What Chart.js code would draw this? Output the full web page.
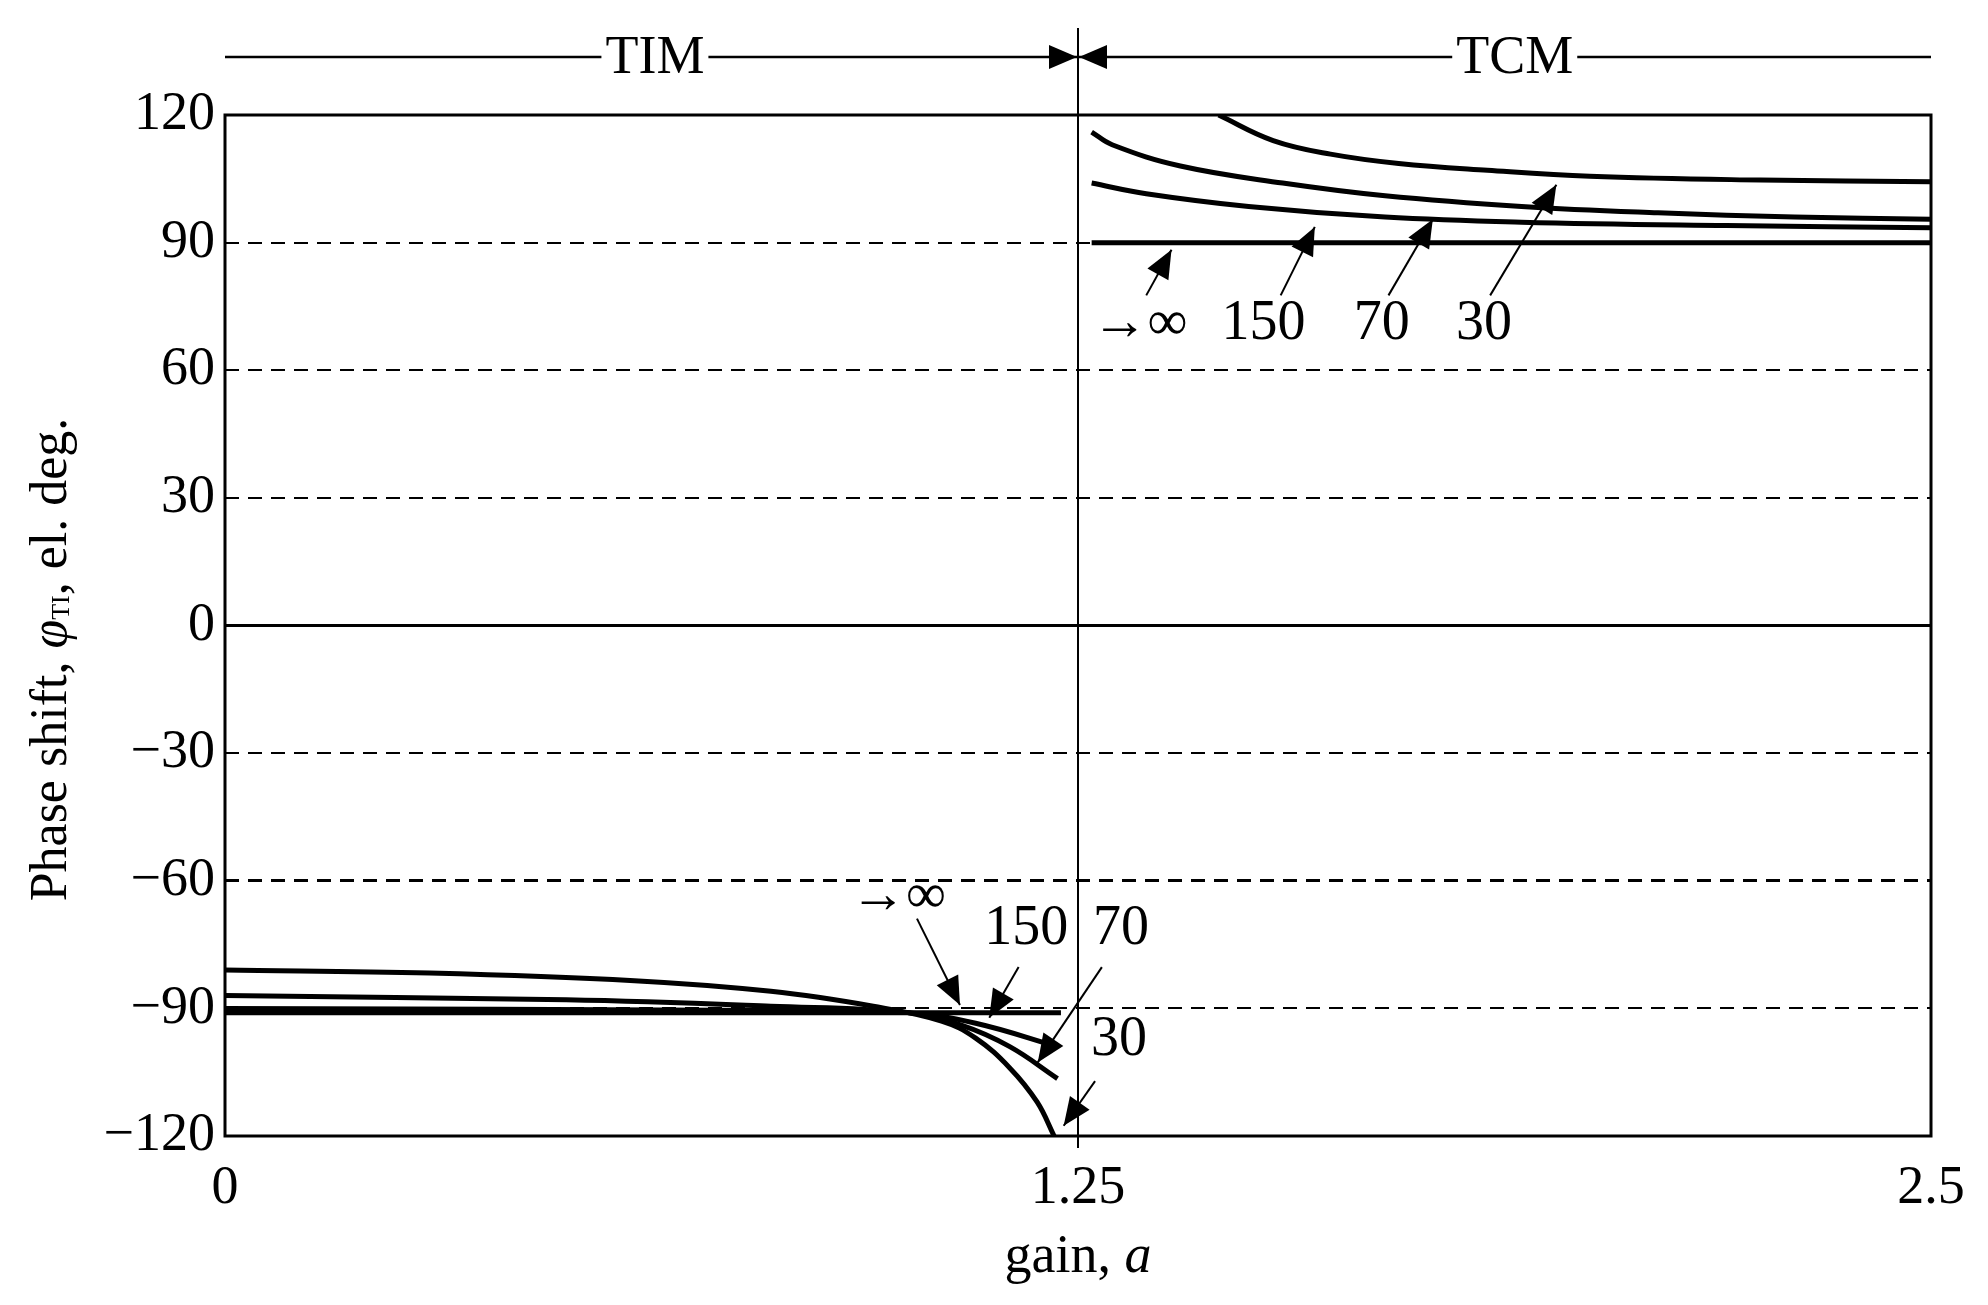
<!DOCTYPE html>
<html><head><meta charset="utf-8">
<script src="https://cdn.jsdelivr.net/npm/chart.js@4/dist/chart.umd.min.js"></script>
<style>html,body{margin:0;padding:0;background:#fff}#wrap{width:1988px;height:1305px}</style>
</head><body><div id="wrap"><canvas id="c"></canvas></div>
<script>
const yTicks = [-120,-90,-60,-30,0,30,60,90,120];
const xTicks = [0,1.25,2.5];
// TIM region (a < 1.25), parameter 30, 70, 150, ∞
const tim30 = [[0,-81],[0.3,-81.7],[0.6,-83.5],[0.8,-86],[0.95,-89.5],[1.05,-93],[1.1,-97],[1.15,-104],[1.19,-112],[1.215,-120]];
const tim70 = [[0,-87],[0.5,-88],[0.8,-89.5],[1.0,-91],[1.08,-94],[1.15,-99],[1.22,-106.5]];
const tim150 = [[0,-90],[0.8,-90.5],[1.0,-91],[1.1,-93.5],[1.22,-99]];
const timInf = [[0,-91],[1.225,-91]];
// TCM region (a > 1.25)
const tcm30 = [[1.456,120],[1.536,114],[1.62,110.8],[1.72,108.6],[1.85,107],[2.0,105.6],[2.25,104.7],[2.5,104.3]];
const tcm70 = [[1.27,116],[1.3,113],[1.4,108],[1.55,104],[1.7,101],[1.9,98.5],[2.1,97],[2.3,96],[2.5,95.5]];
const tcm150 = [[1.27,104],[1.35,101.5],[1.5,98.5],[1.7,96],[1.9,94.8],[2.2,94],[2.5,93.5]];
const tcmInf = [[1.27,90],[2.5,90]];
// labels: [text, textX, textY, arrowFromX, arrowFromY, arrowToX, arrowToY]
const labels = [
 ['→∞',1.34,70.7,1.35,77.6,1.387,88.3],
 ['150',1.522,70.7,1.547,77.6,1.597,93.7],
 ['70',1.695,70.7,1.705,77.6,1.77,95.5],
 ['30',1.845,70.7,1.854,77.6,1.951,103.6],
 ['→∞',0.986,-63.8,1.014,-68.9,1.077,-89.2],
 ['150',1.174,-71.3,1.163,-80.3,1.12,-92.2],
 ['70',1.313,-71.3,1.285,-80.3,1.191,-102.7],
 ['30',1.31,-97.6,1.275,-107.1,1.229,-117.6]
];
const F = '"Liberation Serif", "DejaVu Serif", serif';
const mk = d => ({data:d.map(p=>({x:p[0],y:p[1]})),borderColor:'#000',borderWidth:5,pointRadius:0,tension:0.4,fill:false,showLine:true});
function arrow(ctx,x1,y1,x2,y2,h,w){
  ctx.beginPath();ctx.moveTo(x1,y1);ctx.lineTo(x2,y2);ctx.stroke();
  const a=Math.atan2(y2-y1,x2-x1);
  ctx.beginPath();ctx.moveTo(x2,y2);
  ctx.lineTo(x2-h*Math.cos(a)+w*Math.sin(a),y2-h*Math.sin(a)-w*Math.cos(a));
  ctx.lineTo(x2-h*Math.cos(a)-w*Math.sin(a),y2-h*Math.sin(a)+w*Math.cos(a));
  ctx.closePath();ctx.fill();
}
const deco = {id:'deco',
 beforeDatasetsDraw(ch){
  const {ctx,scales:{x,y},chartArea:ca}=ch;
  ctx.save();ctx.strokeStyle='#000';ctx.lineWidth=3;
  ctx.beginPath();ctx.moveTo(ca.left,y.getPixelForValue(0));ctx.lineTo(ca.right,y.getPixelForValue(0));ctx.stroke();
  ctx.strokeRect(ca.left,ca.top,ca.right-ca.left,ca.bottom-ca.top);
  ctx.restore();
 },
 afterDraw(ch){
  const {ctx,scales:{x,y},chartArea:ca}=ch;
  ctx.save();ctx.strokeStyle='#000';ctx.fillStyle='#000';
  const xm=x.getPixelForValue(1.25);
  ctx.lineWidth=2;
  ctx.beginPath();ctx.moveTo(xm,28);ctx.lineTo(xm,ca.bottom+12);ctx.stroke();
  const ty=57;
  ctx.font='54px '+F;ctx.textAlign='center';ctx.textBaseline='middle';
  const tx1=x.getPixelForValue(0.63), tx2=x.getPixelForValue(1.89);
  ctx.fillText('TIM',tx1,ty+2);ctx.fillText('TCM',tx2,ty+2);
  const w1=ctx.measureText('TIM').width/2+4,w2=ctx.measureText('TCM').width/2+4;
  ctx.lineWidth=2.5;
  ctx.beginPath();ctx.moveTo(ca.left,ty);ctx.lineTo(tx1-w1,ty);ctx.moveTo(tx2+w2,ty);ctx.lineTo(ca.right,ty);ctx.stroke();
  arrow(ctx,tx1+w1,ty,xm-1,ty,28,12);
  arrow(ctx,tx2-w2,ty,xm+1,ty,28,12);
  ctx.font='56px '+F;ctx.lineWidth=2;
  labels.forEach(l=>{
    ctx.fillText(l[0],x.getPixelForValue(l[1]),y.getPixelForValue(l[2]));
    arrow(ctx,x.getPixelForValue(l[3]),y.getPixelForValue(l[4]),x.getPixelForValue(l[5]),y.getPixelForValue(l[6]),28,12);
  });
  ctx.translate(52,y.getPixelForValue(-8));ctx.rotate(-Math.PI/2);
  ctx.textAlign='left';ctx.textBaseline='middle';
  const parts=[['Phase shift, ','52px '+F,0],['φ','italic 52px '+F,0],['TI','26px '+F,10],[', el. deg.','52px '+F,0]];
  let tw=0;parts.forEach(p=>{ctx.font=p[1];tw+=ctx.measureText(p[0]).width;});
  let cx=-tw/2;
  parts.forEach(p=>{ctx.font=p[1];ctx.fillText(p[0],cx,p[2]);cx+=ctx.measureText(p[0]).width;});
  ctx.setTransform(1,0,0,1,0,0);
  ctx.textAlign='left';ctx.font='54px '+F;
  const g='gain, ';const gw=ctx.measureText(g).width;ctx.font='italic 54px '+F;const aw=ctx.measureText('a').width;
  const gx=x.getPixelForValue(1.25)-(gw+aw)/2;
  ctx.font='54px '+F;ctx.fillText(g,gx,1258);ctx.font='italic 54px '+F;ctx.fillText('a',gx+gw,1258);
  ctx.restore();
 }};
new Chart(document.getElementById('c'),{
 type:'scatter',
 data:{datasets:[tim30,tim70,tim150,timInf,tcm30,tcm70,tcm150,tcmInf].map(mk)},
 options:{responsive:true,maintainAspectRatio:false,animation:false,
  layout:{padding:{top:115,right:57,left:0,bottom:0}},
  plugins:{legend:{display:false},tooltip:{enabled:false}},
  scales:{
   x:{type:'linear',min:0,max:2.5,
     afterBuildTicks:s=>{s.ticks=xTicks.map(v=>({value:v}));},
     afterFit:s=>{s.height=1305-1136;},
     ticks:{color:'#000',font:{family:F,size:54},padding:12,maxRotation:0,callback:v=>String(v)},
     grid:{display:false},border:{display:false}},
   y:{min:-120,max:120,
     afterBuildTicks:s=>{s.ticks=yTicks.map(v=>({value:v}));},
     afterFit:s=>{s.width=225;},
     ticks:{color:'#000',font:{family:F,size:54},padding:10,callback:v=>v<0?'−'+Math.abs(v):String(v)},
     grid:{drawTicks:false,lineWidth:c=>(c.tick&&c.tick.value===-60)?3:2,color:c=>(c.tick&&(Math.abs(c.tick.value)===120||c.tick.value===0))?'rgba(0,0,0,0)':'#000'},
     border:{display:false,dash:[14,9]}}
  }
 },
 plugins:[deco]
});
</script></body></html>
